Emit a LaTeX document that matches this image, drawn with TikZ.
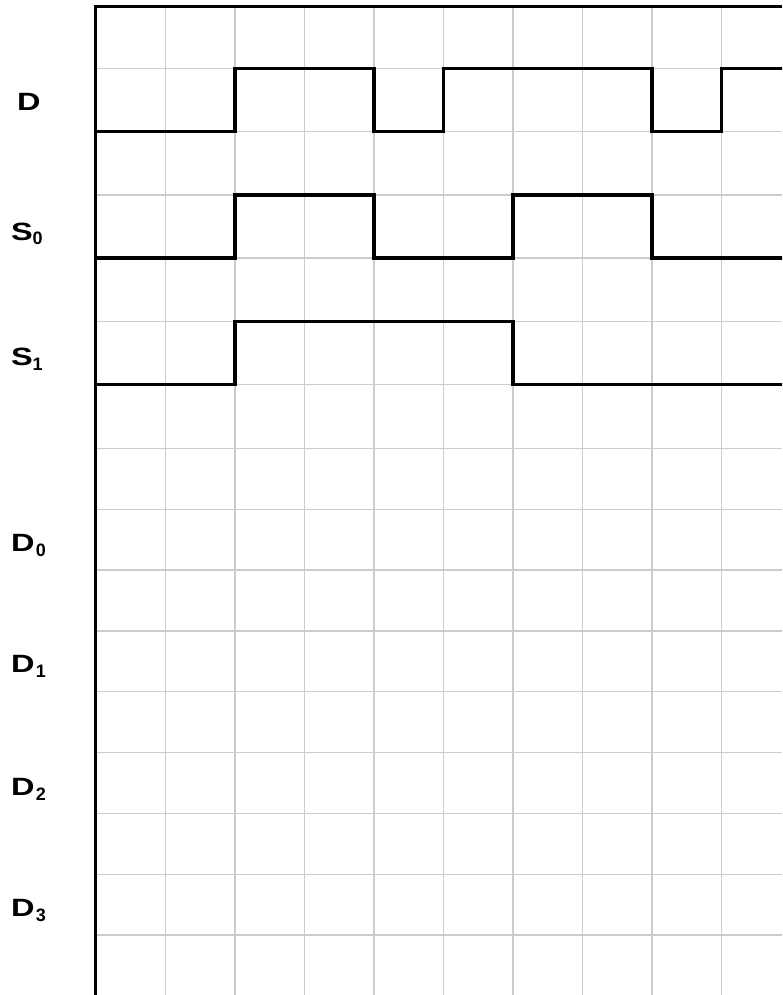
\documentclass[tikz,border=0pt]{standalone}
\usepackage{fontspec}
\setmainfont{Liberation Sans}
\newcommand{\capl}[1]{\scalebox{1.3}[1]{\fontsize{25}{30}\selectfont\bfseries #1}}
\newcommand{\subl}[1]{\raisebox{-5pt}{\fontsize{18}{20}\selectfont\bfseries #1}}
\begin{document}
\begin{tikzpicture}[x=1pt,y=-1pt,
  gridline/.style={draw=black!20,line width=1.3pt},
  axisline/.style={draw=black,line width=3pt},
  topline/.style={draw=black,line width=2.7pt},
  wave/.style={draw=black,line width=3.3pt,line join=miter},
  siglabel/.style={anchor=base west,inner sep=0pt,outer sep=0pt}]
\useasboundingbox (0,0) rectangle (782,995);
\clip (0,0) rectangle (782,995);
% vertical grid lines
\foreach \x in {165.5,235,304.5,374,443.5,513,582.5,652,721.5}
  \draw[gridline] (\x,6.7) -- (\x,995);
% horizontal grid lines
\foreach \y in {68.5,131.7,195,258,321.3,384.7,448.3,509.2,570,630.9,691.7,752.6,813.4,874.3,935.1}
  \draw[gridline] (96,\y) -- (782,\y);
% axis and top border
\draw[topline] (96,6.7) -- (782,6.7);
\draw[axisline] (95.7,5.4) -- (95.7,995);
% waveforms
\draw[wave] (96,131.7) -- (235,131.7) -- (235,68.5) -- (374,68.5) -- (374,131.7) -- (443.5,131.7) -- (443.5,68.5) -- (652,68.5) -- (652,131.7) -- (721.5,131.7) -- (721.5,68.5) -- (790,68.5);
\draw[wave] (96,258) -- (235,258) -- (235,195) -- (374,195) -- (374,258) -- (513,258) -- (513,195) -- (652,195) -- (652,258) -- (790,258);
\draw[wave] (96,384.7) -- (235,384.7) -- (235,321.3) -- (513,321.3) -- (513,384.7) -- (790,384.7);
% labels
\node[siglabel] (lD) at (17,110.5) {\capl{D}};
\node[siglabel] (lS0) at (11,240) {\capl{S}\subl{0}};
\node[siglabel] (lS1) at (11,365) {\capl{S}\subl{1}};
\node[siglabel] (lD0) at (11,551) {\capl{D}\hspace{1.5pt}\subl{0}};
\node[siglabel] (lD1) at (11,672.5) {\capl{D}\hspace{1.5pt}\subl{1}};
\node[siglabel] (lD2) at (11,795) {\capl{D}\hspace{1.5pt}\subl{2}};
\node[siglabel] (lD3) at (11,916) {\capl{D}\hspace{1.5pt}\subl{3}};
\end{tikzpicture}
\end{document}
